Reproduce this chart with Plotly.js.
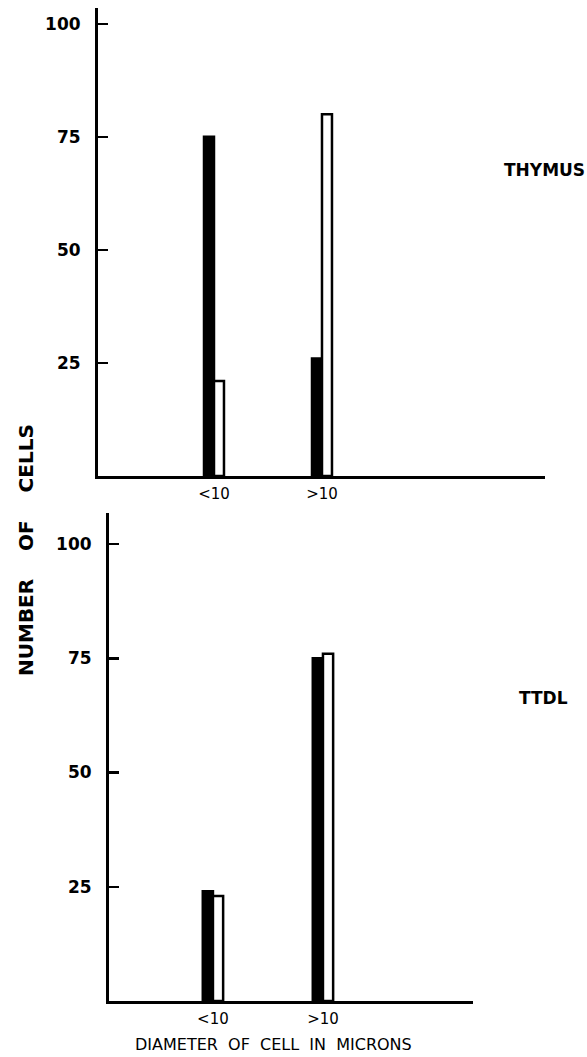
<!DOCTYPE html>
<html>
<head>
<meta charset="utf-8">
<script src="https://cdn.plot.ly/plotly-3.0.1.min.js"></script>
<style>html,body{margin:0;padding:0;background:#fff;}</style>
</head>
<body>
<div id="chart" style="width:587px;height:1057px;"></div>
<script>
// Data
const categories = ['<10', '>10'];
const thymusFilled = [75, 26];
const thymusOpen = [21, 80];
const ttdlFilled = [24, 75];
const ttdlOpen = [23, 76];
const yTicks = [25, 50, 75, 100];
const panelLabels = ['THYMUS', 'TTDL'];

const W = 587, H = 1057;
const px = v => v / W;
const py = v => 1 - v / H;

const FONT = 'DejaVu Sans, Liberation Sans, sans-serif';
const lineStyle = {color: '#000', width: 2.5};

const traces = [
  {type: 'bar', x: categories, y: thymusFilled, xaxis: 'x', yaxis: 'y',
   marker: {color: '#000', line: lineStyle}, showlegend: false},
  {type: 'bar', x: categories, y: thymusOpen, xaxis: 'x', yaxis: 'y',
   marker: {color: '#fff', line: lineStyle}, showlegend: false},
  {type: 'bar', x: categories, y: ttdlFilled, xaxis: 'x2', yaxis: 'y2',
   marker: {color: '#000', line: lineStyle}, showlegend: false},
  {type: 'bar', x: categories, y: ttdlOpen, xaxis: 'x2', yaxis: 'y2',
   marker: {color: '#fff', line: lineStyle}, showlegend: false}
];

const xCommon = {
  type: 'category', showline: true, linecolor: '#000', linewidth: 3,
  showgrid: false, zeroline: false, ticks: '',
  tickfont: {family: FONT, size: 15, color: '#000'}, ticklabelstandoff: 2, fixedrange: true
};
const yCommon = {
  showline: true, linecolor: '#000', linewidth: 3, showgrid: false, zeroline: false,
  ticks: 'inside', ticklen: 10, tickwidth: 2.5, tickcolor: '#000',
  tickvals: yTicks, ticktext: yTicks.map(String),
  tickfont: {family: FONT, size: 17, color: '#000', weight: 'bold'}, ticklabelstandoff: 11
};

const layout = {
  width: W, height: H,
  margin: {l: 0, r: 0, t: 0, b: 0},
  paper_bgcolor: '#fff', plot_bgcolor: '#fff',
  barmode: 'group', bargap: 0.815, bargroupgap: 0,
  showlegend: false,
  xaxis: Object.assign({}, xCommon, {domain: [px(98), px(545)], range: [-1.074, 3.065], anchor: 'y'}),
  yaxis: Object.assign({}, yCommon, {domain: [py(476), py(8)], range: [0, 103.5], anchor: 'x'}),
  xaxis2: Object.assign({}, xCommon, {domain: [px(109), px(473)], range: [-0.945, 2.364], anchor: 'y2'}),
  yaxis2: Object.assign({}, yCommon, {domain: [py(1001), py(513)], range: [0, 106.8], anchor: 'x2'}),
  annotations: [
    {text: panelLabels[0], xref: 'paper', yref: 'paper', x: px(544), y: py(170),
     xanchor: 'center', yanchor: 'middle',
     showarrow: false, font: {family: FONT, size: 17, color: '#000', weight: 'bold'}},
    {text: panelLabels[1], xref: 'paper', yref: 'paper', x: px(543), y: py(698),
     xanchor: 'center', yanchor: 'middle',
     showarrow: false, font: {family: FONT, size: 17, color: '#000', weight: 'bold'}},
    {text: 'NUMBER\u00A0\u00A0\u00A0\u00A0OF\u00A0\u00A0\u00A0\u00A0CELLS', xref: 'paper', yref: 'paper', x: px(26), y: py(550),
     xanchor: 'center', yanchor: 'middle',
     textangle: -90, showarrow: false, font: {family: FONT, size: 20, color: '#000', weight: 'bold'}},
    {text: 'DIAMETER\u00A0\u00A0OF\u00A0\u00A0CELL\u00A0\u00A0IN\u00A0\u00A0MICRONS', xref: 'paper', yref: 'paper',
     x: px(273), y: py(1044), xanchor: 'center', yanchor: 'middle', showarrow: false,
     font: {family: FONT, size: 16, color: '#000'}}
  ]
};

Plotly.newPlot('chart', traces, layout, {staticPlot: true, displayModeBar: false});
</script>
</body>
</html>
